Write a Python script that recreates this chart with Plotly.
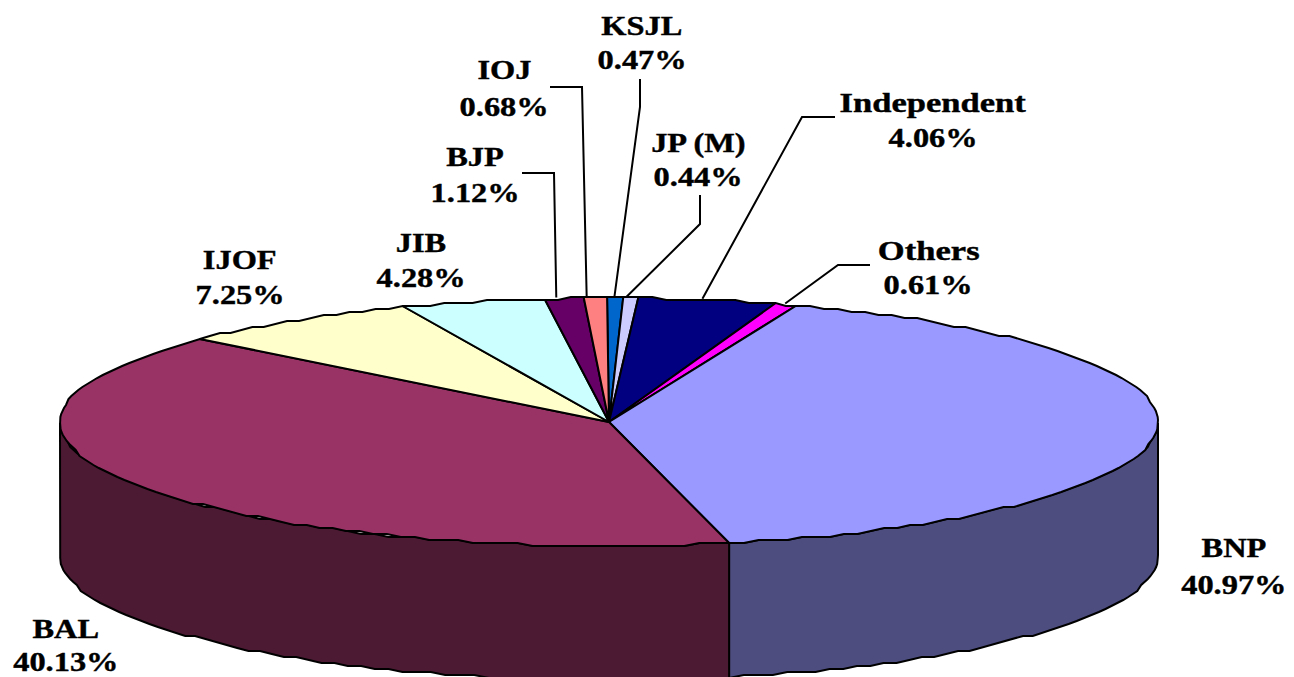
import numpy as np
import plotly.graph_objects as go

# Data
parties = ["KSJL", "JP (M)", "Independent", "Others", "BNP", "BAL", "IJOF", "JIB", "BJP", "IOJ"]
shares = [0.47, 0.44, 4.06, 0.61, 40.97, 40.13, 7.25, 4.28, 1.12, 0.68]
top_colors = ["#0066CC", "#CCCCFF", "#000080", "#FF00FF", "#9999FF", "#993366",
              "#FFFFCC", "#CCFFFF", "#660066", "#FF8080"]
side_colors = ["#4D4D80", "#4D1A33"]

# Layout constants (pixel space of the page)
W, H = 1294, 677
CX, CY, RX, RY, DEPTH = 609, 422, 549, 124, 134
START = -0.2
SNAP = 3
label_pos = {"KSJL": (642, 26, 60), "JP (M)": (698, 143, 177), "Independent": (933, 103, 138),
             "Others": (928, 251, 285), "BNP": (1234, 548, 585), "BAL": (66, 629, 662),
             "IJOF": (240, 260, 295), "JIB": (421, 243, 278), "BJP": (475, 157, 193),
             "IOJ": (504, 70, 107)}
leaders = {"KSJL": ([640, 640], [79, 107], 0.45), "JP (M)": ([700, 700], [195, 224], 0.2),
           "Independent": ([835, 802], [117, 117], 0.46), "Others": ([870, 838], [265, 265], 0.47),
           "BJP": ([522, 554], [173, 173], 0.29), "IOJ": ([550, 582], [87, 87], 0.13)}

total = sum(shares)
edges = START + np.concatenate([[0], np.cumsum(shares)]) / total * 360


def rim(a0, a1, dy=0.0, snap=True):
    n = max(2, int(abs(a1 - a0) / 1.6) + 2)
    t = np.radians(np.linspace(a0, a1, n))
    x = CX + RX * np.sin(t)
    y = CY - RY * np.cos(t) + dy
    if snap:
        y = np.round(y / SNAP) * SNAP
    return x, y


fig = go.Figure()


def poly(x, y, color):
    fig.add_trace(go.Scatter(x=list(x), y=list(y), mode="lines", fill="toself", fillcolor=color,
                             line=dict(color="black", width=2), hoverinfo="skip", showlegend=False))


# Side walls (only the front half of the cylinder shows)
bnp = parties.index("BNP")
bal = parties.index("BAL")
for (a0, a1), c in zip([(90, edges[bnp + 1]), (edges[bal], 270)], side_colors):
    tx, ty = rim(a0, a1)
    bx, by = rim(a1, a0, DEPTH)
    poly(np.r_[tx, bx, tx[0]], np.r_[ty, by, ty[0]], c)

# Top face
for i, c in enumerate(top_colors):
    x, y = rim(edges[i], edges[i + 1])
    poly(np.r_[CX, x, CX], np.r_[CY, y, CY], c)

# Leader lines
for name, (lx, ly, frac) in leaders.items():
    i = parties.index(name)
    ang = np.radians(edges[i] + frac * (edges[i + 1] - edges[i]))
    fig.add_trace(go.Scatter(x=lx + [CX + RX * np.sin(ang)], y=ly + [CY - RY * np.cos(ang) - 1],
                             mode="lines", line=dict(color="black", width=2),
                             hoverinfo="skip", showlegend=False))

# Labels
for name, val in zip(parties, shares):
    px, y1, y2 = label_pos[name]
    for txt, yy in ((name, y1), (f"{val:.2f}%", y2)):
        fig.add_annotation(x=px, y=yy, text=f"<b>{txt}</b>", showarrow=False, xanchor="center", yanchor="middle",
                           font=dict(family="Liberation Serif", size=27, color="black"))

fig.update_layout(width=W, height=H, margin=dict(l=0, r=0, t=0, b=0),
                  paper_bgcolor="white", plot_bgcolor="white", showlegend=False,
                  xaxis=dict(range=[0, W], visible=False, fixedrange=True),
                  yaxis=dict(range=[H, 0], visible=False, fixedrange=True))

stretch = """
document.documentElement.style.margin='0';
document.body.style.margin='0';
document.querySelectorAll('.annotation-text').forEach(function(t){
  var s = /[a-z]/.test(t.textContent) ? 1.28 : 1.2;
  t.style.transformBox='fill-box'; t.style.transformOrigin='center'; t.style.transform='scaleX('+s+')';
  t.style.stroke='black'; t.style.strokeWidth='0.4px';
});
"""
fig.write_html("out.html", post_script=stretch, config={"displayModeBar": False, "responsive": False})
